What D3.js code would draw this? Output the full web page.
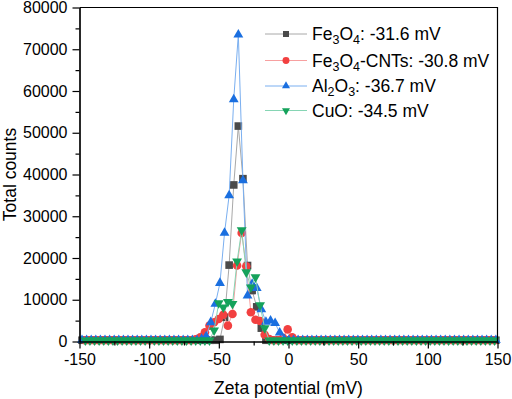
<!DOCTYPE html>
<html><head><meta charset="utf-8">
<script src="https://cdn.jsdelivr.net/npm/d3@7"></script>
<style>
html,body{margin:0;padding:0;background:#fff;}
svg{display:block;font-family:"Liberation Sans",Arial,sans-serif;}
</style></head>
<body><svg id="c" width="512" height="399"></svg>
<script>
// x grid (mV) for Fe3O4 and Al2O3
const zetaA = [-148.2,-144.9,-141.6,-138.3,-135.0,-131.7,-128.4,-125.1,-121.8,-118.5,
-115.2,-111.9,-108.6,-105.3,-102.0,-98.7,-95.4,-92.1,-88.8,-85.5,
-82.2,-78.9,-75.6,-72.3,-69.0,-65.7,-62.4,-59.1,-55.8,-52.5,
-49.2,-45.9,-42.6,-39.3,-36.0,-32.7,-29.4,-26.1,-22.8,-19.5,
-16.2,-12.9,-9.6,-6.3,-3.0,0.3,3.6,6.9,10.2,13.5,
16.8,20.1,23.4,26.7,30.0,33.3,36.6,39.9,43.2,46.5,
49.8,53.1,56.4,59.7,63.0,66.3,69.6,72.9,76.2,79.5,
82.8,86.1,89.4,92.7,96.0,99.3,102.6,105.9,109.2,112.5,
115.8,119.1,122.4,125.7,129.0,132.3,135.6,138.9,142.2,145.5,
148.8];
// x grid (mV) for Fe3O4-CNTs and CuO
const zetaB = [-145.8,-142.5,-139.2,-135.9,-132.6,-129.3,-126.0,-122.7,-119.4,-116.1,
-112.8,-109.5,-106.2,-102.9,-99.6,-96.3,-93.0,-89.7,-86.4,-83.1,
-79.8,-76.5,-73.2,-69.9,-66.6,-63.3,-60.0,-56.7,-53.4,-50.1,
-46.8,-43.5,-40.2,-36.9,-33.6,-30.3,-27.0,-23.7,-20.4,-17.1,
-13.8,-10.5,-7.2,-3.9,-0.6,2.7,6.0,9.3,12.6,15.9,
19.2,22.5,25.8,29.1,32.4,35.7,39.0,42.3,45.6,48.9,
52.2,55.5,58.8,62.1,65.4,68.7,72.0,75.3,78.6,81.9,
85.2,88.5,91.8,95.1,98.4,101.7,105.0,108.3,111.6,114.9,
118.2,121.5,124.8,128.1,131.4,134.7,138.0,141.3,144.6,147.9];

const countsFe3O4 = [300,300,300,300,300,300,300,300,300,300,
300,300,300,300,300,300,300,300,300,300,
300,300,300,300,300,300,300,300,300,300,
500,5800,18300,37500,51600,39000,18200,12200,8300,3200,
300,300,300,300,300,300,300,300,300,300,
300,300,300,300,300,300,300,300,300,300,
300,300,300,300,300,300,300,300,300,300,
300,300,300,300,300,300,300,300,300,300,
300,300,300,300,300,300,300,300,300,300,
300];
const countsCNT = [300,300,300,300,300,300,300,300,300,300,
300,300,300,300,300,300,300,300,300,300,
300,300,300,300,500,1000,2200,3800,4600,5400,
6400,3800,6600,18200,26000,18000,7000,5200,4900,1600,
600,300,300,900,2900,1000,300,300,300,300,
300,300,300,300,300,300,300,300,300,300,
300,300,300,300,300,300,300,300,300,300,
300,300,300,300,300,300,300,300,300,300,
300,300,300,300,300,300,300,300,300,300];
const countsAl2O3 = [300,300,300,300,300,300,300,300,300,300,
300,300,300,300,300,300,300,300,300,300,
300,300,300,300,300,300,600,1200,4600,9000,
14000,26000,35000,58000,73500,38600,11000,13800,12800,7700,
4700,5000,4400,2100,500,300,300,300,300,300,
300,300,300,300,300,300,300,300,300,300,
300,300,300,300,300,300,300,300,300,300,
300,300,300,300,300,300,300,300,300,300,
300,300,300,300,300,300,300,300,300,300,
300];
const countsCuO = [300,300,300,300,300,300,300,300,300,300,
300,300,300,300,300,300,300,300,300,300,
300,300,300,300,300,300,300,300,2700,9200,
8200,9500,9000,19200,26700,16600,13000,15400,8700,3200,
300,300,300,300,300,300,300,300,300,300,
300,300,300,300,300,300,300,300,300,300,
300,300,300,300,300,300,300,300,300,300,
300,300,300,300,300,300,300,300,300,300,
300,300,300,300,300,300,300,300,300,300];

const xMajor = [-150,-100,-50,0,50,100,150];
const xMinor = [-125,-75,-25,25,75,125];
const yMajor = [0,10000,20000,30000,40000,50000,60000,70000,80000];
const yMinor = [5000,15000,25000,35000,45000,55000,65000,75000];

const series = [
  {parts:[["Fe",0],["3",1],["O",0],["4",1],[": -31.6 mV",0]], x:zetaA, y:countsFe3O4, sym:"square", mc:"#4a4a4a", lc:"#a8a8a8"},
  {parts:[["Fe",0],["3",1],["O",0],["4",1],["-CNTs: -30.8 mV",0]], x:zetaB, y:countsCNT, sym:"circle", mc:"#f24040", lc:"#f7a0a0"},
  {parts:[["Al",0],["2",1],["O",0],["3",1],[": -36.7 mV",0]], x:zetaA, y:countsAl2O3, sym:"tri", mc:"#1a6fe0", lc:"#7aaff0"},
  {parts:[["CuO: -34.5 mV",0]], x:zetaB, y:countsCuO, sym:"itri", mc:"#15a25b", lc:"#86d5b4"}
];

const svg = d3.select("#c");
const X0=79.5, X1=497.5, Y0=341.5, Y1=7.5;
const x = d3.scaleLinear().domain([-150,150]).range([X0,X1]);
const y = d3.scaleLinear().domain([0,80000]).range([Y0,Y1]);

function symPath(s, big){
  if(s==="square") return d3.symbol(d3.symbolSquare, big?58:36)();
  if(s==="circle") return d3.symbol(d3.symbolCircle, big?58:38)();
  return d3.symbol(d3.symbolTriangle, big?42:28)();
}

const plot = svg.append("g");
series.forEach(s=>{
  const pts = s.x.map((v,i)=>[v,s.y[i]]);
  plot.append("path").attr("d", d3.line().x(d=>x(d[0])).y(d=>y(d[1]))(pts))
    .attr("fill","none").attr("stroke",s.lc).attr("stroke-width",1);
  plot.selectAll(null).data(pts).enter().append("path")
    .attr("d", symPath(s.sym,true))
    .attr("transform", d=>`translate(${x(d[0])},${y(d[1])})`+(s.sym==="itri"?" rotate(180)":""))
    .attr("fill", s.mc);
});

// frame top/right
svg.append("path").attr("d",`M${X0},${Y1}H${X1}V${Y0}`).attr("fill","none").attr("stroke","#000").attr("stroke-width",1.2);

// axes
const gx = svg.append("g").attr("transform",`translate(0,${Y0})`)
  .call(d3.axisBottom(x).tickValues(xMajor).tickSize(7).tickSizeOuter(0).tickPadding(5).tickFormat(d3.format("d")));
const gxm = svg.append("g").attr("transform",`translate(0,${Y0})`)
  .call(d3.axisBottom(x).tickValues(xMinor).tickSize(4).tickSizeOuter(0).tickFormat(""));
const gy = svg.append("g").attr("transform",`translate(${X0},0)`)
  .call(d3.axisLeft(y).tickValues(yMajor).tickSize(7).tickSizeOuter(0).tickPadding(5).tickFormat(d3.format("d")));
const gym = svg.append("g").attr("transform",`translate(${X0},0)`)
  .call(d3.axisLeft(y).tickValues(yMinor).tickSize(4).tickSizeOuter(0).tickFormat(""));
[gx,gxm,gy,gym].forEach(g=>{
  g.selectAll("path.domain").attr("stroke","#000").attr("stroke-width",1.2);
  g.selectAll(".tick line").attr("stroke","#000").attr("stroke-width",1.2);
  g.selectAll(".tick text").attr("fill","#000").attr("font-size",16).attr("font-family","Liberation Sans, Arial, sans-serif");
});
gx.selectAll(".tick text").text(d=>d<0?"-"+Math.abs(d):d);

// axis titles
svg.append("text").attr("x",(X0+X1)/2).attr("y",394).attr("text-anchor","middle")
  .attr("font-size",17.5).text("Zeta potential (mV)");
svg.append("text").attr("transform",`translate(16,${(Y0+Y1)/2}) rotate(-90)`).attr("text-anchor","middle")
  .attr("font-size",17.5).text("Total counts");

// legend
const lg = svg.append("g");
const rowY = [34,60.5,86,110.5];
series.forEach((s,i)=>{
  const cy=rowY[i];
  lg.append("line").attr("x1",265).attr("x2",307).attr("y1",cy).attr("y2",cy).attr("stroke",s.lc).attr("stroke-width",1);
  lg.append("path").attr("d",symPath(s.sym,false))
    .attr("transform",`translate(286,${cy})`+(s.sym==="itri"?" rotate(180)":"")).attr("fill",s.mc);
  const t = lg.append("text").attr("x",312).attr("y",cy+6).attr("font-size",17.5).attr("fill","#000");
  let prevSub=false;
  s.parts.forEach(([txt,sub])=>{
    const ts=t.append("tspan").text(txt);
    if(sub){ ts.attr("font-size",12.5); if(!prevSub) ts.attr("dy",4); }
    else if(prevSub){ ts.attr("dy",-4); }
    prevSub=!!sub;
  });
});
</script></body></html>
